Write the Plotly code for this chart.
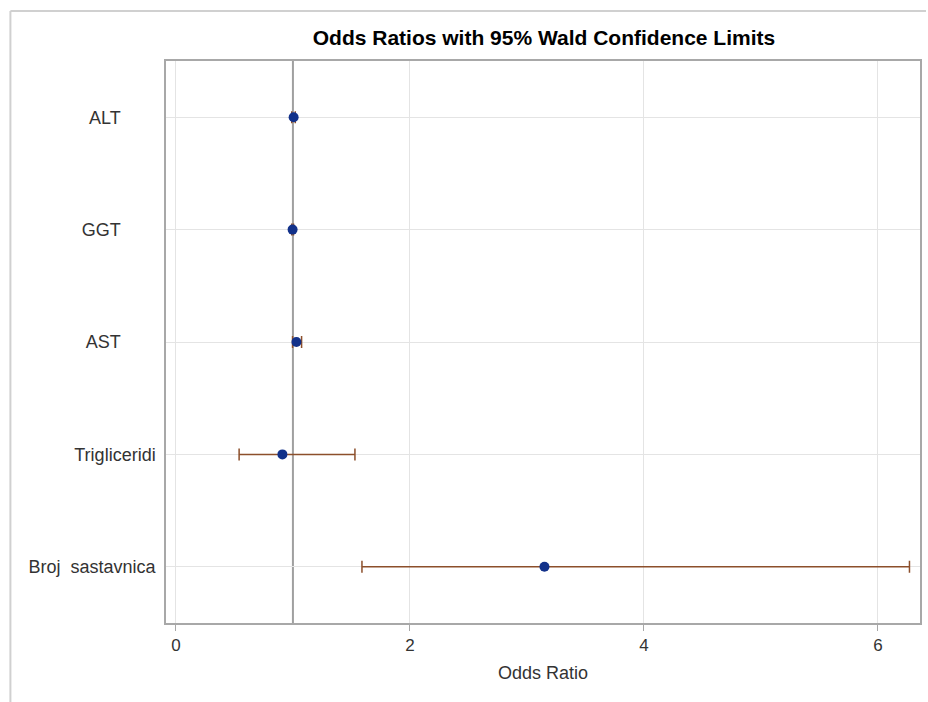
import plotly.graph_objects as go

NBSP = "\u00a0"
categories = ["ALT", "GGT", "AST", "Trigliceridi", "Broj  sastavnica"]
tick_labels = ["ALT" + NBSP * 7, "GGT" + NBSP * 7, "AST" + NBSP * 7, "Trigliceridi", "Broj" + NBSP * 2 + "sastavnica"]
odds_ratio = [1.006, 0.997, 1.03, 0.91, 3.15]
lower_cl = [0.99, 0.99, 0.997, 0.54, 1.59]
upper_cl = [1.02, 1.005, 1.074, 1.53, 6.27]
x_ticks = [0, 2, 4, 6]

err_plus = [u - o for u, o in zip(upper_cl, odds_ratio)]
err_minus = [o - l for o, l in zip(odds_ratio, lower_cl)]

fig = go.Figure()
fig.add_trace(go.Scatter(
    x=odds_ratio, y=categories, mode="markers",
    marker=dict(color="#12318a", size=10),
    error_x=dict(type="data", symmetric=False, array=err_plus, arrayminus=err_minus,
                 color="#8c4f2b", thickness=1.5, width=6),
    showlegend=False,
))

fig.add_vline(x=1, line=dict(color="#a0a0a0", width=2), layer="below")

L, R, T, B = 166, 6, 61, 79
W, H = 928, 702
pw, ph = W - L - R, H - T - B
def px(x):
    return (x - L) / pw
def py(y):
    return (H - B - y) / ph

# outer frame
fig.add_shape(type="line", xref="paper", yref="paper", x0=px(10), x1=px(928), y0=py(11), y1=py(11),
              line=dict(color="#d0d0d0", width=2))
fig.add_shape(type="line", xref="paper", yref="paper", x0=px(10), x1=px(10), y0=py(11), y1=py(702),
              line=dict(color="#d0d0d0", width=2))

fig.update_layout(
    width=W, height=H,
    margin=dict(l=L, r=R, t=T, b=B),
    paper_bgcolor="white", plot_bgcolor="white",
    font=dict(family="Liberation Sans, Arial, sans-serif", color="#333333", size=17),
    title=dict(text="<b>Odds Ratios with 95% Wald Confidence Limits</b>",
               xref="container", x=544 / W, xanchor="center", y=1 - 38 / H, yanchor="middle",
               font=dict(size=21, color="#000000")),
    xaxis=dict(range=[-0.085, 6.36], tickvals=x_ticks, showgrid=True, gridcolor="#e4e4e4",
               zeroline=False, showline=True, linecolor="#a8a8a8", linewidth=1.5, mirror=True,
               ticks="outside", ticklen=6, tickcolor="#a8a8a8",
               title=dict(text="Odds Ratio", font=dict(size=18, color="#333333"), standoff=12),
               tickfont=dict(size=17)),
    yaxis=dict(type="category", categoryarray=categories, range=[4.5, -0.5],
               tickvals=categories, ticktext=tick_labels,
               showgrid=True, gridcolor="#e4e4e4", zeroline=False,
               showline=True, linecolor="#a8a8a8", linewidth=1.5, mirror=True,
               ticks="", ticklabelstandoff=5, tickfont=dict(size=18)),
)

fig.write_html("out.html", config={"displayModeBar": False},
               post_script="document.body.style.margin='0';document.body.style.overflow='hidden';")
